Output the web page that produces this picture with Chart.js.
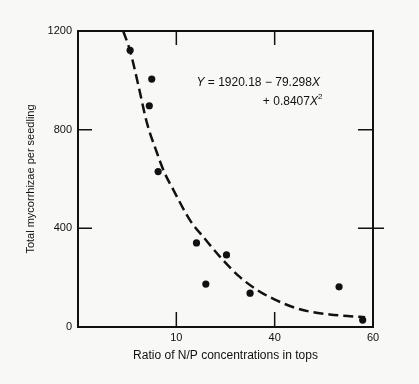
<!DOCTYPE html>
<html>
<head>
<meta charset="utf-8">
<script src="https://cdn.jsdelivr.net/npm/chart.js@4/dist/chart.umd.min.js"></script>
<style>
  html, body { margin: 0; padding: 0; background: #f8f8f6; }
  #wrap { width: 419px; height: 384px; position: relative; }
</style>
</head>
<body>
<div id="wrap"><canvas id="chart" width="419" height="384"></canvas></div>
<script>
// --- Data ---
const obsX = [10.6, 15.0, 14.5, 16.3, 24.1, 26.0, 30.2, 35.0, 53.1, 57.9];
const obsY = [1122, 1005, 897, 630, 341, 174, 292, 137, 163, 28];

// fitted curve as drawn (dashed)
const fitX = [9.2, 10.6, 12.3, 14.0, 15.9, 17.5, 19.5, 22.8, 25.8, 28.9, 32.9, 37.0, 40.4, 43.1, 47.2, 51.2, 55.3, 58.4];
const fitY = [1200, 1119, 978, 829, 715, 630, 552, 432, 358, 284, 203, 143, 108, 85, 62, 51, 44, 40];

// ticks
const xTickValues = [20, 40, 60];
const xTickLabels = ['10', '40', '60'];
const yTickValues = [0, 400, 800, 1200];
const yTickLabels = ['0', '400', '800', '1200'];
// short inner tick marks on the frame
const xInnerTicks = [20, 40];
const yInnerTicks = [400, 800];

const FONT = 'Liberation Sans, Arial, Helvetica, sans-serif';
const INK = '#111';

const toPoints = (xs, ys) => xs.map((x, i) => ({ x: x, y: ys[i] }));

// --- Frame, inward ticks and equation ---
const framePlugin = {
    id: 'frame',
    afterDraw(chart) {
        const ctx = chart.ctx;
        const a = chart.chartArea;
        const xs = chart.scales.x;
        const ys = chart.scales.y;
        ctx.save();
        ctx.strokeStyle = INK;
        ctx.lineWidth = 2;
        ctx.strokeRect(a.left, a.top, a.right - a.left, a.bottom - a.top);

        ctx.lineWidth = 1.5;
        ctx.beginPath();
        xInnerTicks.forEach((v) => {
            const px = xs.getPixelForValue(v);
            ctx.moveTo(px, a.bottom); ctx.lineTo(px, a.bottom - 15);
            ctx.moveTo(px, a.top); ctx.lineTo(px, a.top + 14);
        });
        yInnerTicks.forEach((v) => {
            const py = ys.getPixelForValue(v);
            ctx.moveTo(a.left, py); ctx.lineTo(a.left + 14, py);
            ctx.moveTo(a.right, py); ctx.lineTo(a.right - 15, py);
        });
        // the 400 mark on the right runs across the frame
        const p400 = ys.getPixelForValue(400);
        ctx.moveTo(a.right, p400); ctx.lineTo(a.right + 11, p400);
        ctx.stroke();

        // equation
        ctx.fillStyle = INK;
        ctx.textBaseline = 'middle';
        const ex = xs.getPixelForValue(24.1);
        const ey = ys.getPixelForValue(990);
        let cx = ex;
        const part = (txt, italic, size, dy) => {
            ctx.font = (italic ? 'italic ' : '') + size + 'px ' + FONT;
            ctx.fillText(txt, cx, ey + (dy || 0));
            cx += ctx.measureText(txt).width;
        };
        part('Y', true, 12);
        part(' = 1920.18 \u2212 79.298', false, 12);
        part('X', true, 12);
        cx = xs.getPixelForValue(37.6);
        const line2 = 19;
        part('+ 0.8407', false, 12, line2);
        part('X', true, 12, line2);
        part('2', false, 8, line2 - 5);
        ctx.restore();
    }
};

new Chart(document.getElementById('chart'), {
    type: 'scatter',
    data: {
        datasets: [
            {
                label: 'fit',
                data: toPoints(fitX, fitY),
                showLine: true,
                borderColor: INK,
                borderWidth: 2.5,
                borderDash: [10, 5],
                pointRadius: 0,
                cubicInterpolationMode: 'monotone',
                fill: false
            },
            {
                label: 'observed',
                data: toPoints(obsX, obsY),
                pointRadius: 3.6,
                pointBackgroundColor: INK,
                pointBorderColor: INK,
                pointBorderWidth: 0
            }
        ]
    },
    options: {
        responsive: false,
        animation: false,
        layout: { padding: { top: 31, right: 46, left: 0, bottom: 0 } },
        plugins: {
            legend: { display: false },
            tooltip: { enabled: false }
        },
        scales: {
            x: {
                type: 'linear',
                min: 0,
                max: 60,
                grid: { display: false, drawTicks: false },
                border: { display: false },
                afterBuildTicks: (s) => { s.ticks = xTickValues.map((v) => ({ value: v })); },
                afterFit: (s) => { s.height = 57; },
                ticks: {
                    autoSkip: false,
                    maxRotation: 0,
                    padding: 4,
                    color: INK,
                    font: { family: FONT, size: 11 },
                    callback: (v) => xTickLabels[xTickValues.indexOf(v)]
                },
                title: {
                    display: true,
                    text: 'Ratio of N/P concentrations in tops',
                    color: INK,
                    font: { family: FONT, size: 12 },
                    padding: { top: 0, bottom: 21 }
                }
            },
            y: {
                min: 0,
                max: 1200,
                grid: { display: false, drawTicks: false },
                border: { display: false },
                afterBuildTicks: (s) => { s.ticks = yTickValues.map((v) => ({ value: v })); },
                afterFit: (s) => { s.width = 78; },
                ticks: {
                    padding: 6,
                    color: INK,
                    font: { family: FONT, size: 11 },
                    callback: (v) => yTickLabels[yTickValues.indexOf(v)]
                },
                title: {
                    display: true,
                    text: 'Total mycorrhizae per seedling',
                    color: INK,
                    font: { family: FONT, size: 11 },
                    padding: { top: 24, bottom: 0 }
                }
            }
        }
    },
    plugins: [framePlugin]
});
</script>
</body>
</html>
